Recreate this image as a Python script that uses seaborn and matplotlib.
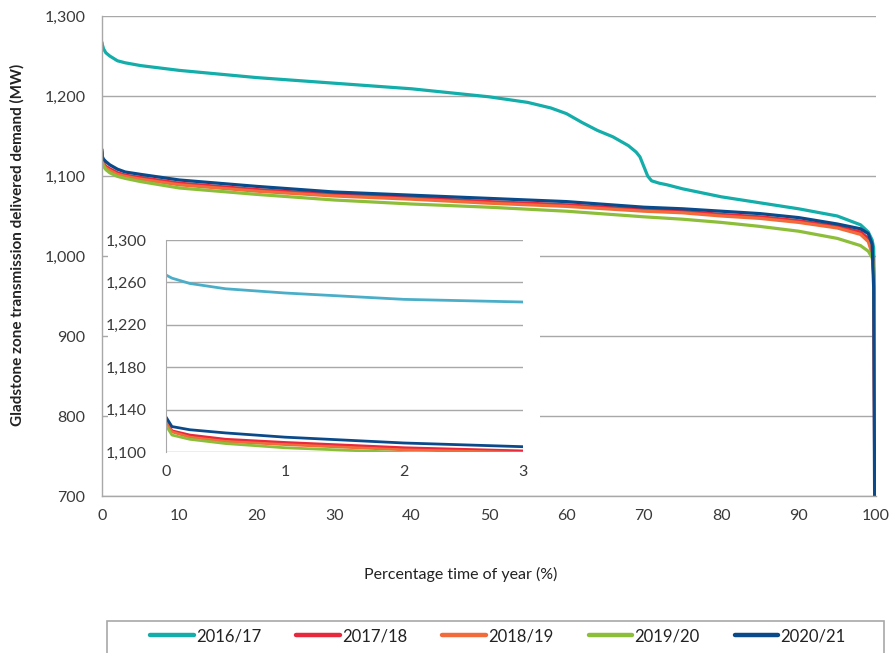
import matplotlib
matplotlib.use("Agg")
import matplotlib.pyplot as plt
from matplotlib.patches import Rectangle
from matplotlib.ticker import FuncFormatter, MultipleLocator
import seaborn as sns
import pandas as pd

years = ["2016/17", "2017/18", "2018/19", "2019/20", "2020/21"]

# Percentage of time in the year for the 2016/17 duration curve
pct_2016 = [0, 0.05, 0.2, 0.5, 1, 2, 3, 5, 10, 20, 30, 40, 50, 55, 58, 60, 62,
            64, 66, 68, 69, 69.5, 70, 70.5, 71, 72, 73, 75, 77, 80, 84, 90, 95,
            98, 99, 99.5, 99.7, 99.85, 100]
mw_2016 = [1267, 1264, 1259, 1254, 1250, 1244, 1241.5, 1238, 1232, 1223, 1216,
           1209, 1199, 1192, 1185, 1178, 1167, 1157, 1149, 1138, 1130, 1124,
           1112, 1100, 1094, 1091, 1089, 1084, 1080, 1074, 1068, 1059, 1050,
           1039, 1030, 1020, 1010, 900, 600]

# Percentage of time in the year for the later duration curves
pct = [0, 0.05, 0.2, 0.5, 1, 2, 3, 5, 10, 20, 30, 40, 50, 60, 70, 75, 80, 85,
       90, 95, 98, 99, 99.5, 99.7, 99.85, 100]
mw_2017 = [1130, 1120, 1116, 1112, 1109, 1104, 1101, 1098, 1091, 1083, 1077,
           1073, 1068, 1064, 1058, 1056, 1052, 1049, 1044, 1037, 1030, 1022,
           1008, 975, 700, 600]
mw_2018 = [1128, 1119, 1114, 1110, 1107, 1102, 1099.5, 1096, 1089, 1081, 1075,
           1071, 1066, 1062, 1056, 1054, 1050, 1047, 1042, 1035, 1027, 1018,
           1003, 980, 750, 600]
mw_2019 = [1125, 1116, 1112, 1108, 1104, 1099.5, 1097, 1093, 1085, 1077, 1070,
           1065, 1061, 1056, 1049, 1046, 1042, 1037, 1031, 1022, 1013, 1006,
           998, 985, 900, 600]
mw_2020 = [1133, 1124, 1121, 1118, 1114, 1108.5, 1105, 1102, 1095, 1087, 1080,
           1076, 1072, 1068, 1061, 1059, 1056, 1053, 1048, 1040, 1034, 1028,
           1015, 960, 640, 600]

frames = [pd.DataFrame({"pct": pct_2016, "mw": mw_2016, "year": years[0]})]
for yr, vals in zip(years[1:], [mw_2017, mw_2018, mw_2019, mw_2020]):
    frames.append(pd.DataFrame({"pct": pct, "mw": vals, "year": yr}))
df = pd.concat(frames, ignore_index=True)

main_colors = ["#13ADAA", "#E8283C", "#F26B3A", "#8DBE3A", "#0B4A8A"]
inset_colors = ["#4BAEC8", "#E8283C", "#F26B3A", "#8DBE3A", "#0B4A8A"]

sns.set_style("white")
plt.rcParams["font.family"] = ["Lato", "DejaVu Sans"]

text_col = "#3A3A3A"
grid_col = "#A8A8A8"

fig = plt.figure(figsize=(8.89, 6.53), dpi=100)
W, H = 889, 653


def fig_rect(x0, y0, x1, y1):
    # pixel box (top-left origin) -> figure fraction [left, bottom, width, height]
    return [x0 / W, 1 - y1 / H, (x1 - x0) / W, (y1 - y0) / H]


thousands = FuncFormatter(lambda v, p: f"{int(v):,}")

# Main duration curves
ax = fig.add_axes(fig_rect(102, 16, 876, 496))
sns.lineplot(data=df, x="pct", y="mw", hue="year", palette=main_colors,
             estimator=None, sort=False, linewidth=2.3, legend=False, ax=ax)
ax.set_xlim(0, 100)
ax.set_ylim(700, 1300)
ax.xaxis.set_major_locator(MultipleLocator(10))
ax.yaxis.set_major_locator(MultipleLocator(100))
ax.yaxis.set_major_formatter(thousands)
ax.grid(axis="y", color=grid_col, linewidth=1)
ax.grid(axis="x", visible=False)
for s in ["top", "right"]:
    ax.spines[s].set_visible(False)
for s in ["left", "bottom"]:
    ax.spines[s].set_color(grid_col)
    ax.spines[s].set_linewidth(1)
ax.tick_params(axis="x", direction="in", length=4, color="#DDDDDD",
               labelsize=11.5, labelcolor=text_col, pad=9)
ax.tick_params(axis="y", length=0, labelsize=11.5, labelcolor=text_col, pad=12)
ax.set_xlabel("Percentage time of year (%)", fontsize=11.5, color="#222222")
ax.xaxis.set_label_coords((461 - 102) / 774, -(567 - 496) / 480)
ax.set_ylabel("Gladstone zone transmission delivered demand (MW)", fontsize=11,
              fontweight="bold", color="#222222")
ax.yaxis.set_label_coords(-(102 - 25) / 774, (496 - 245) / 480)

# White backing for the zoomed inset
fig.patches.append(Rectangle((108 / W, 1 - 490 / H), (540 - 108) / W, (490 - 229) / H,
                             transform=fig.transFigure, facecolor="white",
                             edgecolor="none", zorder=2))

# Inset: first 3% of the year
axi = fig.add_axes(fig_rect(166, 240, 523, 452), zorder=3)
axi.patch.set_alpha(0)
sns.lineplot(data=df, x="pct", y="mw", hue="year", palette=inset_colors,
             estimator=None, sort=False, linewidth=2.0, legend=False, ax=axi)
axi.set_xlim(0, 3)
axi.set_ylim(1100, 1300)
axi.set_xticks([0, 1, 2, 3])
axi.set_yticks([1100, 1140, 1180, 1220, 1260, 1300])
axi.yaxis.set_major_formatter(thousands)
axi.grid(axis="y", color=grid_col, linewidth=1)
axi.grid(axis="x", visible=False)
for s in ["top", "right", "bottom"]:
    axi.spines[s].set_visible(False)
axi.spines["left"].set_color(grid_col)
axi.tick_params(axis="both", length=0, labelsize=11.5, labelcolor=text_col)
axi.tick_params(axis="y", pad=14)
axi.tick_params(axis="x", pad=9)
axi.set_xlabel("")
axi.set_ylabel("")

# Legend strip along the bottom edge
fig.patches.append(Rectangle((107 / W, -0.05), (884 - 107) / W, 0.05 + 32 / H,
                             transform=fig.transFigure, facecolor="white",
                             edgecolor="#A8A8A8", linewidth=1.2))
handles = [plt.Line2D([], [], color=c, linewidth=3.2) for c in main_colors]
fig.legend(handles, years, loc="center", bbox_to_anchor=(498 / W, 1 - 636 / H),
           ncol=5, frameon=False, fontsize=12, handlelength=2.6,
           handletextpad=0.15, columnspacing=2.1, labelcolor="#222222")

fig.savefig("out.png", dpi=100)
